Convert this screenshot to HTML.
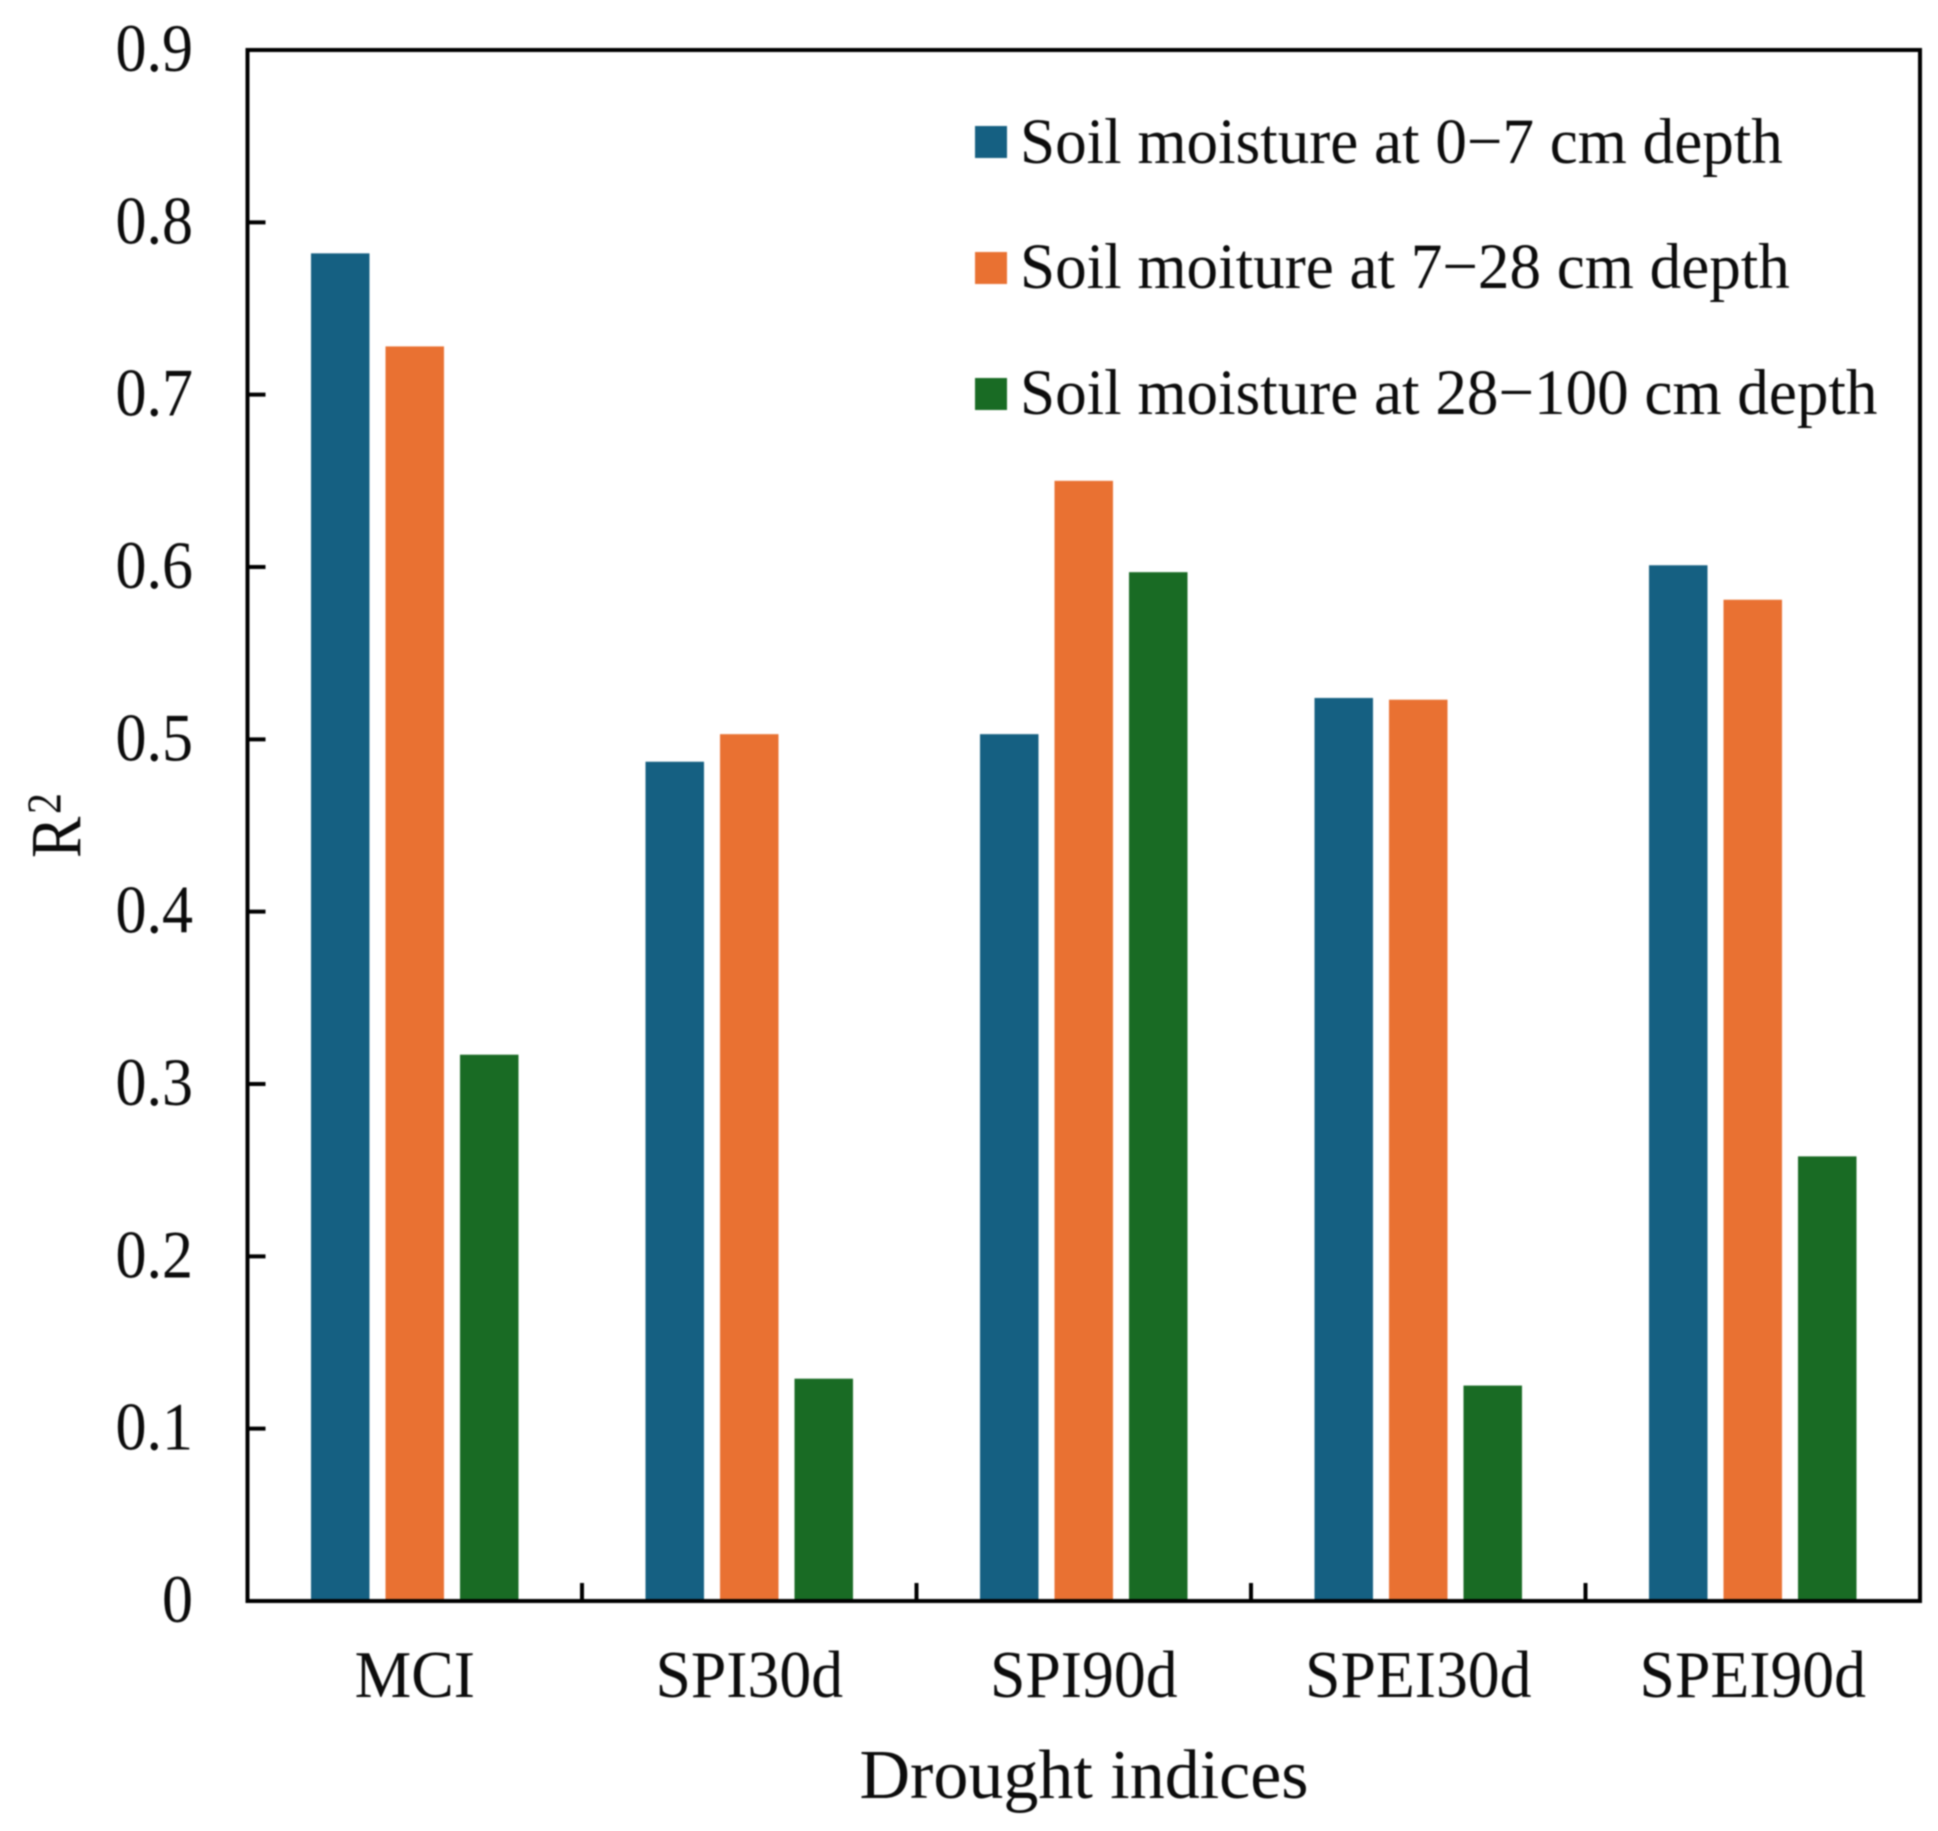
<!DOCTYPE html>
<html lang="en">
<head>
<meta charset="utf-8">
<title>R² of drought indices and soil moisture</title>
<style>
  html, body { margin: 0; padding: 0; background: #fff; }
  svg { display: block; filter: blur(0.7px); }
  text { font-family: "Liberation Serif", serif; fill: #0c0c0c; }
</style>
</head>
<body>
<svg id="chart" xmlns="http://www.w3.org/2000/svg" width="1938" height="1831" viewBox="0 0 1938 1831"></svg>
<script>
const categories = ['MCI', 'SPI30d', 'SPI90d', 'SPEI30d', 'SPEI90d'];
const seriesShallow = [0.782, 0.487, 0.503, 0.524, 0.601];
const seriesMiddle = [0.728, 0.503, 0.650, 0.523, 0.581];
const seriesDeep = [0.317, 0.129, 0.597, 0.125, 0.258];
const yTickValues = [0, 0.1, 0.2, 0.3, 0.4, 0.5, 0.6, 0.7, 0.8, 0.9];
const yTickLabels = ['0', '0.1', '0.2', '0.3', '0.4', '0.5', '0.6', '0.7', '0.8', '0.9'];
const legendLabels = ['Soil moisture at 0\u22127 cm depth', 'Soil moiture at 7\u221228 cm depth', 'Soil moisture at 28\u2212100 cm depth'];

const svg = document.getElementById('chart');
const NS = 'http://www.w3.org/2000/svg';
const plot = { left: 247.5, right: 1920, top: 50, bottom: 1601 };
const yMax = 0.9;
const colors = ['#156082', '#E97132', '#196B24'];
const slugs = ['0-7cm', '7-28cm', '28-100cm'];
const allSeries = [seriesShallow, seriesMiddle, seriesDeep];

function yScale(v) { return plot.bottom - (v / yMax) * (plot.bottom - plot.top); }
function groupEdge(i) { return plot.left + i * (plot.right - plot.left) / categories.length; }
function groupCenter(i) { return groupEdge(i + 0.5); }

function make(tag, attrs, parent) {
  const el = document.createElementNS(NS, tag);
  for (const k in attrs) el.setAttribute(k, attrs[k]);
  (parent || svg).appendChild(el);
  return el;
}
function stretchedText(str, x, y, size, anchor, sy, parent) {
  const el = make('text', { 'font-size': size, 'text-anchor': anchor, transform: 'translate(' + x + ' ' + y + ') scale(1 ' + sy + ')' }, parent);
  el.textContent = str;
  return el;
}

const barWidth = 58.5, barStep = 74.5;
allSeries.forEach(function (values, s) {
  values.forEach(function (v, i) {
    const cx = groupCenter(i) + (s - 1) * barStep;
    const bar = make('rect', { x: cx - barWidth / 2, y: yScale(v), width: barWidth, height: plot.bottom - yScale(v), fill: colors[s] });
    
    
  });
});

const frame = make('rect', { x: plot.left, y: plot.top, width: plot.right - plot.left, height: plot.bottom - plot.top, fill: 'none', stroke: '#000', 'stroke-width': 4 });



yTickValues.forEach(function (v, i) {
  const y = yScale(v);
  if (v > 0 && v < yMax) {
    const tick = make('line', { x1: plot.left, x2: plot.left + 18, y1: y, y2: y, stroke: '#000', 'stroke-width': 4 });
    
    
  }
  const label = stretchedText(yTickLabels[i], 193, y + 21, 62, 'end', 1.09);
  
  
});

categories.forEach(function (c, i) {
  if (i > 0) {
    const tick = make('line', { x1: groupEdge(i), x2: groupEdge(i), y1: plot.bottom, y2: plot.bottom - 18, stroke: '#000', 'stroke-width': 4 });
    
    
  }
  const label = stretchedText(c, groupCenter(i), 1697, 63.7, 'middle', 1.04);
  
  
});

const xTitle = stretchedText('Drought indices', 1084, 1798, 70, 'middle', 1);



const yTitle = make('g', { transform: 'translate(80 858) rotate(-90) scale(1 1.16)' });


const yTitleMain = make('text', { 'font-size': 62, x: 0, y: 0 }, yTitle);
yTitleMain.textContent = 'R';
const yTitleSup = make('text', { 'font-size': 42, x: 44, y: -17 }, yTitle);
yTitleSup.textContent = '2';

const legendSwatchY = [126, 252, 378];
const legendBaseY = [163, 288, 414];
legendLabels.forEach(function (t, i) {
  const entry = make('g', {});
  
  
  const swatch = make('rect', { x: 975, y: legendSwatchY[i], width: 32, height: 32, fill: colors[i] }, entry);
  
  
  const label = stretchedText(t, 1020, legendBaseY[i], 63.1, 'start', 1.03, entry);
  
  
});
</script>
</body>
</html>
